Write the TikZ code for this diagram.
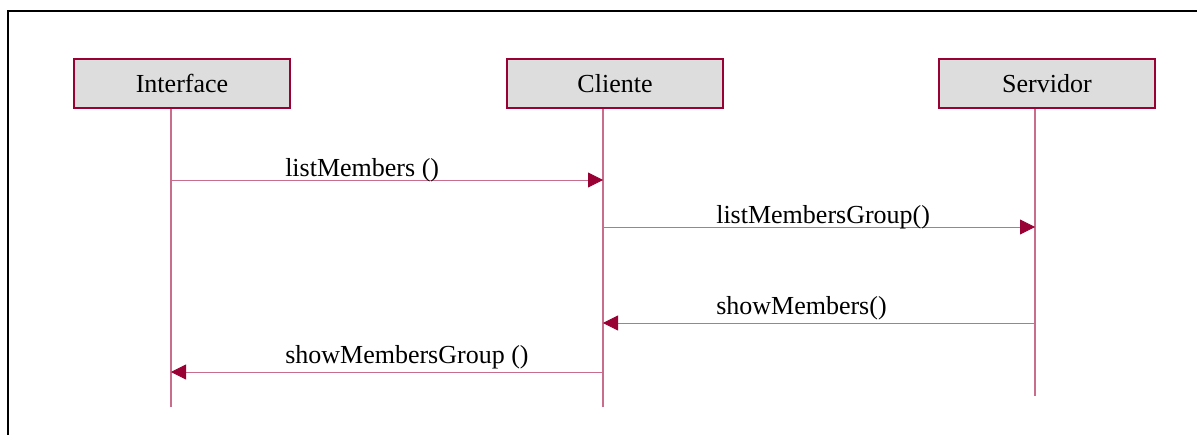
\documentclass[tikz,border=0pt]{standalone}
\usepackage{fontspec}
\setmainfont{Liberation Serif}
\usetikzlibrary{arrows.meta}
\definecolor{umlred}{RGB}{153,0,51}
\definecolor{lifeline}{RGB}{200,110,140}
\definecolor{boxfill}{RGB}{221,221,221}
\begin{document}
\begin{tikzpicture}[x=0.75pt,y=-0.75pt,
  actor/.style={draw=umlred, line width=0.8pt, fill=boxfill,
    minimum width=162pt, minimum height=36.75pt, inner sep=0pt,
    font=\fontsize{19.5}{22}\selectfont},
  life/.style={draw=lifeline, line width=0.8pt},
  msg/.style={draw=lifeline, line width=0.6pt,
    -{Triangle[length=11.25pt,width=11.25pt,color=umlred]}},
  msglabel/.style={anchor=base west, inner sep=0pt,
    font=\fontsize{19.5}{22}\selectfont}]
\useasboundingbox (0,0) rectangle (1197,435);
% outer frame
\draw[line width=1.5pt] (8,440) -- (8,11) -- (1200,11);

% participants
\node[actor] (iface) at (182,83.5) {Interface};
\node[actor] (cli)   at (615,83.5) {Cliente};
\node[actor] (srv)   at (1047,83.5) {Servidor};

% lifeline ends
\coordinate (iEnd) at (171,407);
\coordinate (cEnd) at (603,407);
\coordinate (sEnd) at (1035,396);
\draw[life] (iface.south -| iEnd) -- (iEnd);
\draw[life] (cli.south -| cEnd) -- (cEnd);
\draw[life] (srv.south -| sEnd) -- (sEnd);

% message heights
\coordinate (m1) at (0,180);
\coordinate (m2) at (0,227);
\coordinate (m3) at (0,323);
\coordinate (m4) at (0,372);

\draw[msg] (iEnd |- m1) -- (cEnd |- m1);
\draw[msg] (cEnd |- m2) -- (sEnd |- m2);
\draw[msg] (sEnd |- m3) -- (cEnd |- m3);
\draw[msg] (cEnd |- m4) -- (iEnd |- m4);

\node[msglabel] (l1) at (285,176) {listMembers ()};
\node[msglabel] (l2) at (716,223) {listMembersGroup()};
\node[msglabel] (l3) at (716,314) {showMembers()};
\node[msglabel] (l4) at (285,363) {showMembersGroup ()};
\end{tikzpicture}
\end{document}
